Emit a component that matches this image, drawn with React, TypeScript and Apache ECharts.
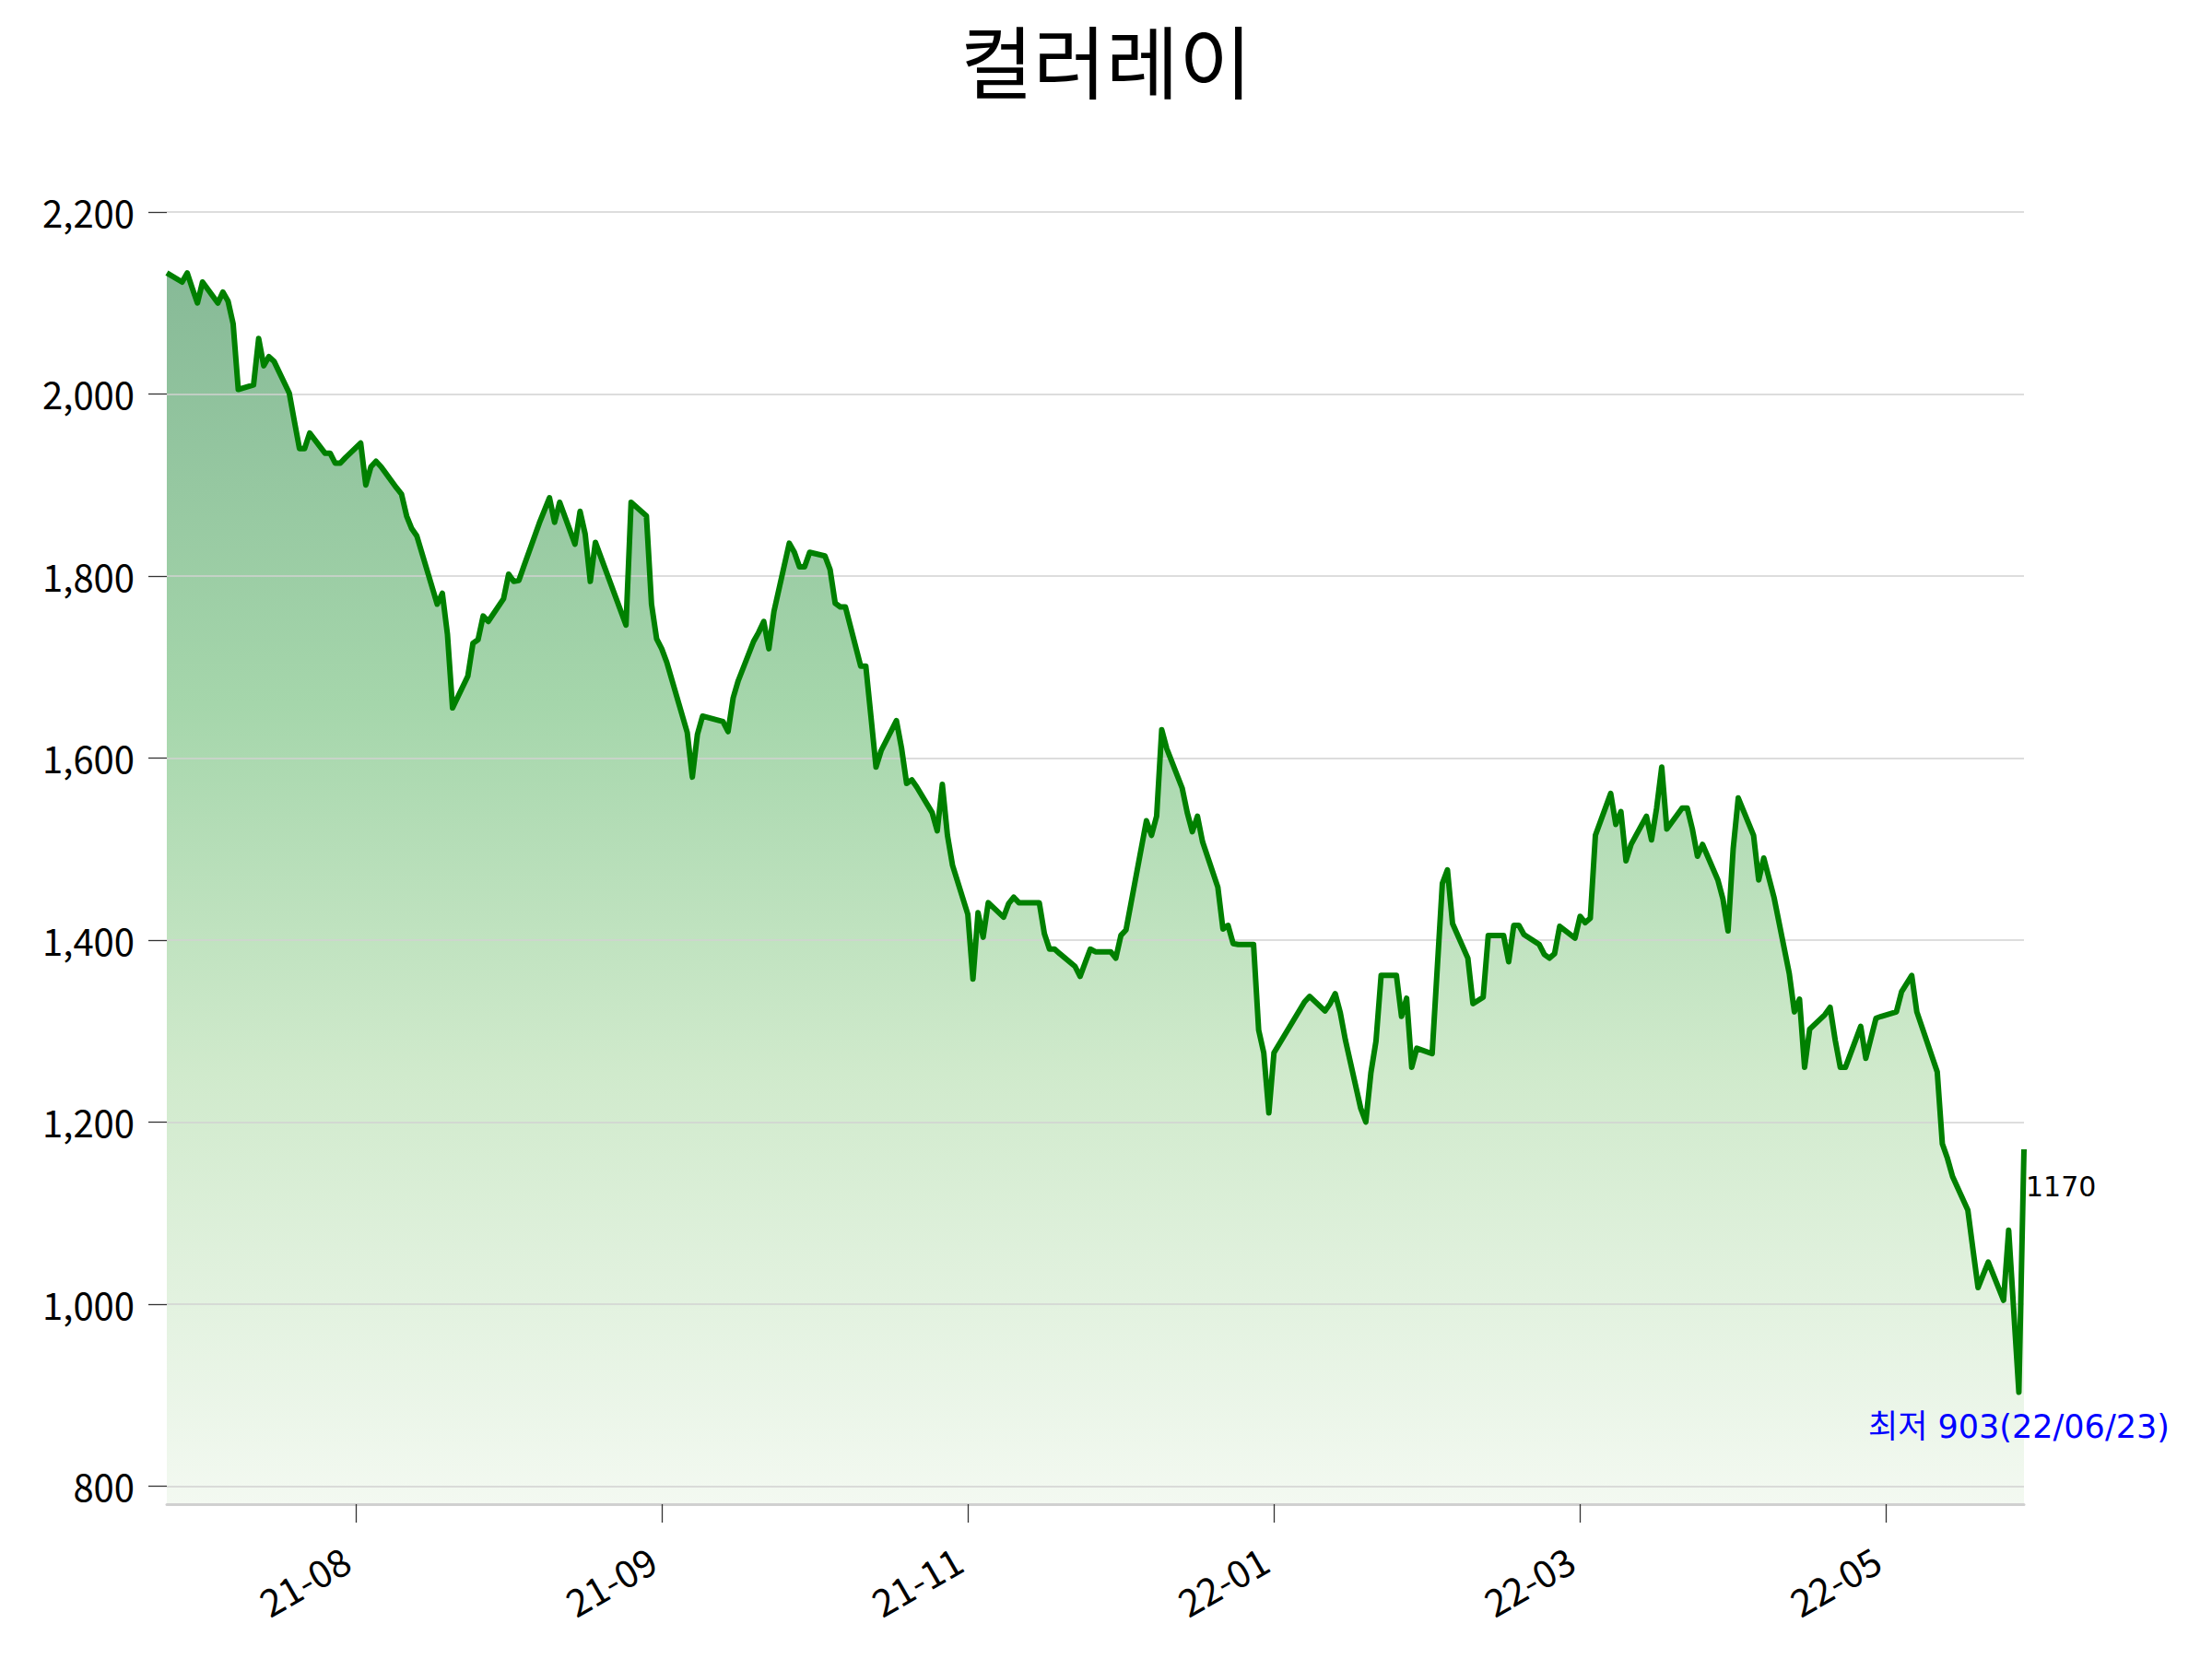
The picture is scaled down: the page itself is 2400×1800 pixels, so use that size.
import React, { useEffect, useRef } from 'react';
import * as echarts from 'echarts';

const TITLE = '컬러레이';

// Trading days (KRX) by month
const months = [
  '2021-06', '2021-07', '2021-08', '2021-09', '2021-10', '2021-11', '2021-12',
  '2022-01', '2022-02', '2022-03', '2022-04', '2022-05', '2022-06',
];
const tradingDays = [
  [25, 28, 29, 30],
  [1, 2, 5, 6, 7, 8, 9, 12, 13, 14, 15, 16, 19, 20, 21, 22, 23, 26, 27, 28, 29, 30],
  [2, 3, 4, 5, 6, 9, 10, 11, 12, 13, 17, 18, 19, 20, 23, 24, 25, 26, 27, 30, 31],
  [1, 2, 3, 6, 7, 8, 9, 10, 13, 14, 15, 16, 17, 23, 24, 27, 28, 29, 30],
  [1, 5, 6, 7, 8, 12, 13, 14, 15, 18, 19, 20, 21, 22, 25, 26, 27, 28, 29],
  [1, 2, 3, 4, 5, 8, 9, 10, 11, 12, 15, 16, 17, 18, 19, 22, 23, 24, 25, 26, 29, 30],
  [1, 2, 3, 6, 7, 8, 9, 10, 13, 14, 15, 16, 17, 20, 21, 22, 23, 24, 27, 28, 29, 30],
  [3, 4, 5, 6, 7, 10, 11, 12, 13, 14, 17, 18, 19, 20, 21, 24, 25, 26, 27, 28],
  [3, 4, 7, 8, 9, 10, 11, 14, 15, 16, 17, 18, 21, 22, 23, 24, 25, 28],
  [2, 3, 4, 7, 8, 10, 11, 14, 15, 16, 17, 18, 21, 22, 23, 24, 25, 28, 29, 30, 31],
  [1, 4, 5, 6, 7, 8, 11, 12, 13, 14, 15, 18, 19, 20, 21, 22, 25, 26, 27, 28, 29],
  [2, 3, 4, 6, 9, 10, 11, 12, 13, 16, 17, 18, 19, 20, 23, 24, 25, 26, 27, 30, 31],
  [2, 3, 7, 8, 9, 10, 13, 14, 15, 16, 17, 20, 21, 22, 23, 24],
];

// Closing prices, one array per month (aligned with tradingDays)
const close2021_06 = [2133, 2123, 2133, 2116];
const close2021_07 = [2100, 2123, 2100, 2112, 2102, 2077, 2005, 2010, 2061, 2031, 2041, 2036, 2001, 1970, 1940, 1940, 1957, 1935, 1935, 1924, 1924, 1930];
const close2021_08 = [1946, 1900, 1920, 1926, 1920, 1897, 1890, 1866, 1852, 1844, 1769, 1781, 1736, 1655, 1690, 1726, 1730, 1756, 1750, 1775, 1802];
const close2021_09 = [1794, 1795, 1811, 1858, 1872, 1886, 1859, 1881, 1835, 1871, 1846, 1794, 1837, 1746, 1881, 1866, 1769, 1731, 1720];
const close2021_10 = [1705, 1628, 1579, 1626, 1646, 1640, 1629, 1666, 1685, 1728, 1738, 1750, 1720, 1761, 1836, 1826, 1810, 1810, 1826];
const close2021_11 = [1822, 1807, 1770, 1766, 1766, 1701, 1701, 1646, 1590, 1608, 1641, 1611, 1572, 1576, 1568, 1540, 1520, 1571, 1515, 1482, 1428, 1357];
const close2021_12 = [1430, 1403, 1441, 1425, 1440, 1447, 1441, 1441, 1441, 1407, 1390, 1390, 1385, 1371, 1360, 1375, 1390, 1387, 1387, 1380, 1405, 1411];
const close2022_01 = [1531, 1515, 1536, 1631, 1610, 1567, 1540, 1519, 1536, 1508, 1458, 1412, 1416, 1396, 1395, 1395, 1301, 1276, 1210, 1276];
const close2022_02 = [1332, 1338, 1322, 1330, 1341, 1320, 1290, 1215, 1200, 1254, 1289, 1361, 1361, 1316, 1336, 1260, 1281, 1275];
const close2022_03 = [1462, 1477, 1418, 1380, 1330, 1337, 1405, 1405, 1376, 1416, 1416, 1406, 1395, 1384, 1380, 1385, 1415, 1402, 1426, 1419, 1424];
const close2022_04 = [1515, 1561, 1527, 1541, 1487, 1505, 1536, 1510, 1545, 1590, 1522, 1545, 1545, 1522, 1492, 1505, 1466, 1445, 1410, 1500, 1556];
const close2022_05 = [1515, 1466, 1490, 1447, 1363, 1321, 1335, 1260, 1302, 1318, 1326, 1290, 1260, 1260, 1305, 1270, 1292, 1314, 1316, 1321, 1343];
const close2022_06 = [1361, 1321, 1255, 1176, 1160, 1140, 1103, 1060, 1018, 1032, 1046, 1004, 1081, 992, 903, 1170];

const closeByMonth = [
  close2021_06, close2021_07, close2021_08, close2021_09, close2021_10, close2021_11, close2021_12,
  close2022_01, close2022_02, close2022_03, close2022_04, close2022_05, close2022_06,
];

// Axis settings
const xStart = '2021-06-25';
const xEnd = '2022-06-24';
const xTickDates = ['2021-08-01', '2021-09-30', '2021-11-29', '2022-01-28', '2022-03-29', '2022-05-28'];
const yTicks = [800, 1000, 1200, 1400, 1600, 1800, 2000, 2200];
const Y_MIN = 780;
const Y_MAX = 2200;

const pad2 = (n: number) => String(n).padStart(2, '0');
const toTs = (s: string) => {
  const [y, m, d] = s.split('-').map(Number);
  return new Date(y, m - 1, d).getTime();
};

export default function App() {
  const ref = useRef<HTMLDivElement>(null);

  useEffect(() => {
    if (!ref.current) return;
    const chart = echarts.init(ref.current, null, { renderer: 'svg' });

    const dates: string[] = [];
    months.forEach((m, i) => tradingDays[i].forEach((d) => dates.push(`${m}-${pad2(d)}`)));
    const values: number[] = ([] as number[]).concat(...closeByMonth);
    const data = dates.map((d, i) => [toTs(d), values[i]]);

    let minIdx = 0;
    values.forEach((v, i) => { if (v < values[minIdx]) minIdx = i; });
    const lastIdx = values.length - 1;
    const minDate = dates[minIdx];
    const lowText = `최저 ${values[minIdx]}(${minDate.slice(2, 4)}/${minDate.slice(5, 7)}/${minDate.slice(8, 10)})`;

    const xTickTs = xTickDates.map(toTs);
    const fmtMonth = (v: number) => {
      const dt = new Date(v);
      return `${String(dt.getFullYear()).slice(2)}-${pad2(dt.getMonth() + 1)}`;
    };

    const option: any = {
      animation: false,
      backgroundColor: '#ffffff',
      title: {
        text: TITLE,
        left: 'center',
        top: 15,
        textStyle: { fontSize: 86, fontWeight: 'normal', color: '#000000', fontFamily: 'Noto Sans CJK KR' },
      },
      grid: { left: 181, right: 204, top: 230, bottom: 168, containLabel: false },
      xAxis: {
        type: 'value',
        min: toTs(xStart),
        max: toTs(xEnd),
        z: 3,
        axisLine: { show: true, onZero: false, lineStyle: { color: '#d0d0d0', width: 3 } },
        axisTick: { show: true, length: 20, customValues: xTickTs, lineStyle: { color: '#333333', width: 1.3 } },
        axisLabel: {
          customValues: xTickTs,
          rotate: 30,
          margin: 50,
          padding: [0, 12, 0, 0],
          fontSize: 41,
          color: '#000000',
          fontFamily: 'Noto Sans CJK KR',
          formatter: (v: number) => fmtMonth(v),
        },
        splitLine: { show: false },
      },
      yAxis: {
        type: 'value',
        min: Y_MIN,
        max: Y_MAX,
        minInterval: 200,
        maxInterval: 200,
        z: 3,
        axisLine: { show: false },
        axisTick: { show: true, length: 20, customValues: yTicks, lineStyle: { color: '#333333', width: 1.3 } },
        axisLabel: {
          customValues: yTicks,
          margin: 35,
          fontSize: 40,
          color: '#000000',
          fontFamily: 'Noto Sans CJK KR',
          formatter: (v: number) => (v % 200 === 0 ? v.toLocaleString('en-US') : ''),
        },
        splitLine: { show: true, lineStyle: { color: '#d2d2d2', width: 1.5 } },
      },
      series: [
        {
          type: 'line',
          data,
          z: 2,
          showSymbol: false,
          silent: true,
          lineStyle: { width: 0, opacity: 0 },
          areaStyle: {
            opacity: 1,
            color: new echarts.graphic.LinearGradient(0, 0, 0, 1, [
              { offset: 0, color: '#87ba97' },
              { offset: 0.35, color: '#a5d6ab' },
              { offset: 0.65, color: '#d0eacc' },
              { offset: 1, color: '#f3f9f1' },
            ]),
          },
        },
        {
          type: 'line',
          data,
          z: 5,
          showSymbol: false,
          silent: true,
          lineStyle: { color: '#008000', width: 6, join: 'round', cap: 'butt' },
          markPoint: {
            silent: true,
            symbol: 'circle',
            symbolSize: 0,
            data: [
              {
                coord: data[lastIdx],
                label: {
                  show: true,
                  formatter: String(values[lastIdx]),
                  position: [2, 26],
                  align: 'left',
                  verticalAlign: 'top',
                  fontSize: 30,
                  color: '#000000',
                  fontFamily: 'DejaVu Sans',
                },
              },
              {
                coord: data[minIdx],
                label: {
                  show: true,
                  formatter: lowText,
                  position: [0, 20],
                  align: 'center',
                  verticalAlign: 'top',
                  fontSize: 35,
                  color: '#0000ff',
                  fontFamily: 'DejaVu Sans, Noto Sans CJK KR',
                },
              },
            ],
          },
        },
      ],
    };

    chart.setOption(option);
    return () => chart.dispose();
  }, []);

  return (
    <div
      ref={ref}
      style={{ position: 'fixed', left: 0, top: 0, width: 2400, height: 1800, background: '#ffffff' }}
    />
  );
}
